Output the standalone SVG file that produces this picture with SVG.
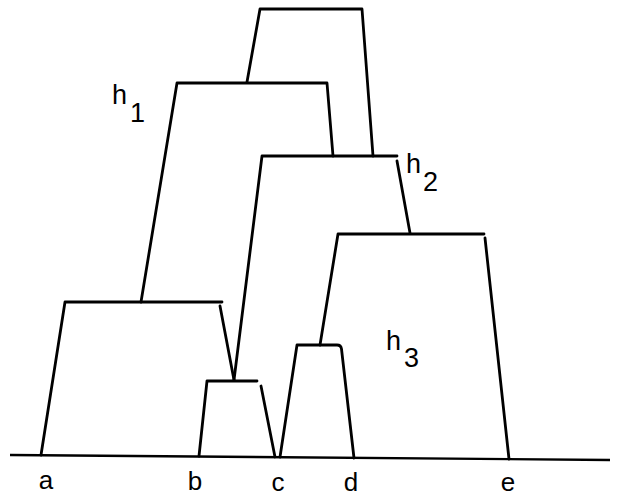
<svg xmlns="http://www.w3.org/2000/svg" width="620" height="498" viewBox="0 0 620 498">
<style>
.ln{fill:none;stroke:#000;stroke-width:2.8;stroke-linecap:round;stroke-linejoin:round}
.base{fill:none;stroke:#000;stroke-width:2.4}
.t{font-family:"Liberation Sans",Arial,sans-serif;font-size:27px;fill:#000}
.lab{font-family:"Liberation Sans",Arial,sans-serif;font-size:26px;fill:#000;text-anchor:middle}
</style>
<rect width="620" height="498" fill="#fff"/>
<g id="connectors">
<path class="base" d="M10 455 L610 460"/>
</g>
<g id="cluster-ab"><path class="ln" d="M41 455 L65 302 L222 302"/><path class="ln" d="M220 306 L234 380"/></g>
<g id="cluster-bc"><path class="ln" d="M199 456 L207 381 L257 381"/><path class="ln" d="M261 386 L275 457"/></g>
<g id="cluster-cd"><path class="ln" d="M280 457 L297 345 L337 345 Q341 345 341.5 349 L354 458"/></g>
<g id="cluster-h3"><path class="ln" d="M320 345 L338 234 L484 234"/><path class="ln" d="M485 238 L509 459"/></g>
<g id="cluster-h2"><path class="ln" d="M234 380 L262 156 L397 156"/><path class="ln" d="M397 161 L410 233"/></g>
<g id="cluster-h1"><path class="ln" d="M141 302 L177 83 L327 83 L333 156"/></g>
<g id="cluster-top"><path class="ln" d="M247 82 L260 9 L362 9 L373 156"/></g>
<g id="labels">
<text class="t" x="112" y="104">h</text><text class="t" x="130" y="122">1</text>
<text class="t" x="406" y="173">h</text><text class="t" x="423" y="191">2</text>
<text class="t" x="386" y="350">h</text><text class="t" x="404" y="367">3</text>
<text class="lab" x="46" y="489">a</text>
<text class="lab" x="195" y="490">b</text>
<text class="lab" x="278" y="491">c</text>
<text class="lab" x="351" y="491">d</text>
<text class="lab" x="508" y="491">e</text>
</g>
</svg>
